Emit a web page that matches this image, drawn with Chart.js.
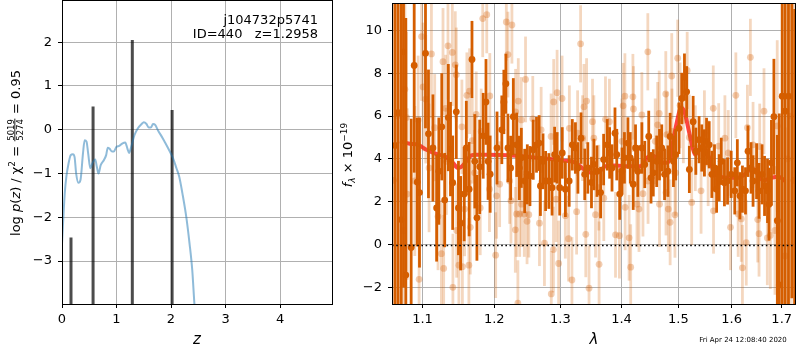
<!DOCTYPE html>
<html>
<head>
<meta charset="utf-8">
<script src="https://cdn.jsdelivr.net/npm/chart.js@4.4.1/dist/chart.umd.min.js"></script>
<style>
  body { margin: 0; background: #fff; }
  #wrap { position: relative; width: 800px; height: 350px; }
  canvas { position: absolute; top: 0; }
</style>
</head>
<body>
<div id="wrap">
  <canvas id="pzChart" width="345" height="350" style="left:0"></canvas>
  <canvas id="specChart" width="465" height="350" style="left:335px"></canvas>
</div>
<script>
// ---- left panel: log p(z)
const zGrid = [0, 0.05, 0.08, 0.12, 0.16, 0.2, 0.23, 0.26, 0.30, 0.34,
  0.385, 0.416, 0.45, 0.48, 0.52, 0.556, 0.61, 0.64, 0.67, 0.71,
  0.77, 0.81, 0.84, 0.87, 0.92, 0.95, 1.0, 1.05, 1.11, 1.16,
  1.2, 1.23, 1.27, 1.33, 1.39, 1.46, 1.50, 1.55, 1.59, 1.63,
  1.67, 1.71, 1.76, 1.85, 1.95, 2.04, 2.10, 2.15, 2.21, 2.28,
  2.34, 2.39, 2.43, 2.47];
const logPz = [-2.6, -1.46, -1.07, -0.77, -0.58, -0.56, -0.62, -1.0, -1.21, -1.14,
  -0.54, -0.24, -0.27, -0.54, -0.88, -0.77, -0.68, -0.85, -1.0, -0.81,
  -0.69, -0.58, -0.41, -0.43, -0.5, -0.5, -0.39, -0.37, -0.31, -0.29,
  -0.43, -0.53, -0.39, -0.12, 0.03, 0.13, 0.17, 0.13, 0.05, 0.05,
  0.13, 0.11, -0.01, -0.2, -0.43, -0.66, -0.88, -1.07, -1.46, -1.99,
  -2.6, -3.21, -3.99, -4.6];
const spikeZ = [0.165, 0.57, 1.29, 2.02];
const spikeTop = [-2.46, 0.53, 2.05, 0.45];
const spikeBase = -6;
const zTicks = [0, 1, 2, 3, 4];
const pzTicks = [-3, -2, -1, 0, 1, 2];

const objName = "j104732p5741";
const objId = 440;
const zBest = "1.2958";
const stamp = "Fri Apr 24 12:08:40 2020";

// ---- right panel: spectrum (dark = main, light = other)
const darkLam = [1.064, 1.068, 1.072, 1.075, 1.078, 1.085, 1.089, 1.093, 1.096, 1.104,
  1.108, 1.114, 1.119, 1.122, 1.126, 1.130, 1.135, 1.138, 1.141, 1.146,
  1.149, 1.152, 1.157, 1.160, 1.164, 1.168, 1.172, 1.175, 1.179, 1.184,
  1.188, 1.191, 1.194, 1.204, 1.211, 1.214, 1.217, 1.220, 1.224, 1.228,
  1.233, 1.237, 1.240, 1.245, 1.249, 1.253, 1.258, 1.263, 1.267, 1.269,
  1.273, 1.277, 1.282, 1.287, 1.291, 1.295, 1.299, 1.303, 1.308, 1.314,
  1.319, 1.324, 1.328, 1.333, 1.339, 1.344, 1.350, 1.354, 1.359, 1.365,
  1.370, 1.376, 1.380, 1.384, 1.389, 1.392, 1.397, 1.401, 1.405, 1.411,
  1.415, 1.420, 1.424, 1.428, 1.435, 1.440, 1.447, 1.451, 1.455, 1.461,
  1.466, 1.470, 1.475, 1.481, 1.485, 1.491, 1.495, 1.501, 1.506, 1.511,
  1.515, 1.520, 1.527, 1.532, 1.538, 1.543, 1.548, 1.552, 1.557, 1.562,
  1.567, 1.571, 1.576, 1.580, 1.586, 1.592, 1.599, 1.606, 1.611, 1.616,
  1.621, 1.627, 1.632, 1.638, 1.642, 1.649, 1.654, 1.660, 1.665, 1.671,
  1.674, 1.679, 1.684, 1.691, 1.695, 1.701, 1.707, 1.714, 1.721, 1.727];
const darkFlux = [4.63, 6.16, 1.17, 9.0, -1.42, -0.13, 8.36, 2.92, 2.43, 8.93,
  5.17, 4.51, 1.71, 3.43, 5.5, 2.08, 5.93, 4.46, 2.89, 6.2,
  1.71, 1.0, 2.36, 4.51, 2.59, 8.64, 3.89, 1.25, 3.63, 5.08,
  6.66, 3.89, 3.29, 4.51, 5.36, 6.66, 7.51, 4.51, 3.58, 5.97,
  4.66, 3.58, 4.05, 2.97, 3.28, 3.2, 4.43, 4.66, 4.74, 2.74,
  3.89, 2.97, 2.97, 2.66, 4.2, 4.05, 2.66, 4.28, 2.59, 2.97,
  4.66, 4.51, 3.58, 4.97, 3.28, 3.58, 2.9, 3.74, 3.43, 2.43,
  3.97, 4.66, 4.28, 3.58, 5.2, 4.2, 2.36, 3.43, 4.05, 4.74,
  4.05, 2.82, 4.51, 3.43, 4.51, 3.74, 5.05, 3.12, 3.35, 3.89,
  4.2, 4.51, 3.28, 3.43, 5.05, 3.89, 4.2, 5.43, 6.82, 7.82,
  7.13, 3.51, 5.74, 4.36, 4.9, 4.51, 4.28, 4.82, 4.66, 3.28,
  3.58, 2.59, 3.12, 3.89, 2.89, 2.97, 3.28, 2.51, 3.82, 2.28,
  2.59, 2.51, 4.36, 3.58, 2.97, 3.43, 2.51, 3.28, 2.74, 2.51,
  1.89, 3.82, 5.97, 1.12, -1.88, 6.93, 6.23, 6.93, 12.5, -4.0];
const darkErr = [12, 12, 12, 11, 12, 6, 5, 3, 3.5, 3.5,
  3, 2.5, 2.5, 2.5, 2.5, 2.2, 2.5, 2.2, 2.2, 2.2,
  2.2, 2.2, 2.2, 2.2, 2.2, 1.8, 2.2, 2.0, 2.2, 2.0,
  2.0, 1.8, 1.8, 1.7, 1.6, 1.5, 1.4, 1.6, 1.5, 1.8,
  1.5, 1.5, 1.4, 1.5, 1.4, 1.4, 1.4, 1.3, 1.3, 1.4,
  1.3, 1.4, 1.3, 1.3, 1.3, 1.2, 1.3, 1.2, 1.3, 1.2,
  1.2, 1.2, 1.2, 1.2, 1.2, 1.2, 1.2, 1.2, 1.2, 1.2,
  1.2, 1.2, 1.2, 1.1, 1.2, 1.2, 1.2, 1.1, 1.2, 1.2,
  1.2, 1.2, 1.1, 1.2, 1.2, 1.1, 1.2, 1.2, 1.1, 1.2,
  1.2, 1.1, 1.2, 1.2, 1.1, 1.2, 1.2, 1.2, 1.2, 1.1,
  1.2, 1.1, 1.2, 1.1, 1.1, 1.1, 1.1, 1.1, 1.1, 1.1,
  1.1, 1.1, 1.1, 1.1, 1.1, 1.1, 1.1, 1.1, 1.1, 1.1,
  1.1, 1.1, 1.2, 1.2, 1.2, 1.3, 1.3, 1.4, 1.4, 1.5,
  1.7, 2.0, 2.7, 4, 8, 12, 12, 12, 15, 15];

const lightLam = [1.062, 1.067, 1.0746, 1.0768, 1.0790, 1.0798, 1.0898, 1.0942, 1.0955, 1.0988,
  1.1008, 1.1044, 1.1088, 1.1120, 1.1164, 1.1209, 1.1255, 1.1277, 1.1286, 1.1313,
  1.1323, 1.1345, 1.1405, 1.1413, 1.1446, 1.1460, 1.1465, 1.1496, 1.1538, 1.1545,
  1.1576, 1.1608, 1.1636, 1.1646, 1.1656, 1.1684, 1.1717, 1.1740, 1.1797, 1.1811,
  1.1833, 1.1891, 1.1930, 1.1935, 1.2020, 1.2033, 1.2078, 1.2176, 1.2200, 1.2225,
  1.2245, 1.2259, 1.2310, 1.2314, 1.2329, 1.2348, 1.2354, 1.2375, 1.2399, 1.2402,
  1.2444, 1.2463, 1.2486, 1.2513, 1.2573, 1.2675, 1.2701, 1.2752, 1.2855, 1.2858,
  1.2892, 1.2896, 1.2934, 1.2949, 1.2973, 1.3027, 1.3079, 1.3130, 1.3143, 1.3184,
  1.3259, 1.3275, 1.3323, 1.3355, 1.3378, 1.3407, 1.3420, 1.3460, 1.3517, 1.3539,
  1.3566, 1.3620, 1.3625, 1.3703, 1.3731, 1.3797, 1.3899, 1.3965, 1.4008, 1.4028,
  1.4058, 1.4062, 1.4130, 1.4157, 1.4195, 1.4204, 1.4265, 1.4300, 1.4350, 1.4369,
  1.4454, 1.4458, 1.4584, 1.4627, 1.4655, 1.4660, 1.4772, 1.4776, 1.4790, 1.4817,
  1.4850, 1.4879, 1.4883, 1.4937, 1.4951, 1.4987, 1.503, 1.509, 1.516, 1.520,
  1.5243, 1.531, 1.5417, 1.548, 1.555, 1.5647, 1.5652, 1.575, 1.5869, 1.5933,
  1.5977, 1.6081, 1.6126, 1.6187, 1.6210, 1.6285, 1.6308, 1.6367, 1.6420, 1.6513,
  1.6539, 1.6553, 1.6639, 1.6706, 1.6767, 1.6862, 1.6908, 1.7072, 1.712, 1.718,
  1.725];
const lightFlux = [3.0, 6.0, 0.66, 7.25, 5.93, 2.36, 2.97, 5.82, -1.62, 9.71,
  7.36, 6.79, 3.58, 8.9, 5.46, 1.31, -0.42, 8.54, -1.11, 6.36,
  3.89, 9.28, 8.97, -1.99, 8.39, 7.93, 0.66, -0.96, 5.5, -1.03,
  1.66, 6.97, -0.96, 7.16, 0.81, 4.85, 3.35, 6.08, 1.71, 5.28,
  10.55, 10.73, 2.59, 6.94, -0.49, 2.28, 2.82, 10.39, 8.87, 2.97,
  2.05, 10.25, 0.69, 6.2, 1.43, -2.73, 6.7, 1.43, 5.82, 1.89,
  1.43, 7.71, 1.09, 1.4, 5.87, 1.0, 5.36, 0.07, 5.05, -2.3,
  -0.23, 6.66, 2.12, 7.09, -0.88, 6.82, 1.35, 0.28, 5.43, -1.65,
  1.54, 5.2, 9.37, 4.97, 6.43, 0.48, 6.7, -2.03, 5.74, 4.97,
  1.4, 2.66, -0.92, 2.17, 5.85, 5.74, 0.46, 0.42, 4.82, 6.48,
  6.93, 1.74, 0.32, -1.05, 6.9, 6.33, 1.89, 1.66, 6.05, 2.38,
  9.0, 2.97, 4.82, 5.59, 6.12, 1.89, 7.03, 2.43, 5.13, 1.66,
  1.04, 7.87, 5.28, 1.39, 3.35, 8.7, 6.5, 5.8, 8.13, 5.0,
  1.97, 4.5, 2.51, 5.2, 3.8, 6.36, 1.58, 4.6, 4.97, 4.28,
  0.81, 6.97, 1.43, 1.2, -1.08, 0.09, 5.46, 8.74, 4.66, 1.17,
  0.51, 4.58, 6.23, 0.31, 0.43, 0.66, 5.54, -0.53, 4.0, 6.0,
  3.0];
const lightErr = [14, 12, 4, 4, 4, 4, 3.5, 3, 3, 3,
  3, 3, 3, 3, 2.5, 2.5, 2.5, 2.5, 2.5, 2.5,
  2.5, 2.5, 2.5, 2.5, 2.5, 2.2, 2.2, 2.2, 2.2, 2.2,
  2.2, 2.0, 2.2, 2.0, 2.2, 2.0, 2.0, 2.0, 2.2, 2.0,
  1.8, 1.8, 2.0, 2.0, 2.0, 2.0, 2.0, 1.8, 2.0, 2.0,
  2.0, 1.8, 2.0, 2.0, 2.0, 2.0, 2.0, 2.0, 2.0, 2.0,
  2.0, 2.0, 2.0, 2.0, 2.0, 2.0, 2.0, 2.0, 2.0, 2.0,
  2.0, 2.0, 2.0, 2.0, 2.0, 2.0, 2.0, 2.0, 2.0, 2.0,
  2.0, 2.0, 1.8, 2.0, 2.0, 2.0, 2.0, 2.0, 2.0, 2.0,
  2.0, 2.0, 2.0, 2.0, 2.0, 2.0, 2.0, 2.0, 2.0, 2.0,
  2.0, 2.0, 2.0, 2.0, 2.0, 2.0, 2.0, 2.0, 2.0, 2.0,
  1.8, 2.0, 2.0, 2.0, 2.0, 2.0, 2.0, 2.0, 2.0, 2.0,
  2.0, 2.0, 2.0, 2.0, 2.0, 1.8, 2.0, 2.0, 1.8, 2.0,
  2.0, 2.0, 2.0, 2.0, 2.0, 2.0, 2.0, 2.0, 2.0, 2.0,
  2.0, 2.0, 2.0, 2.0, 2.0, 2.0, 2.0, 1.8, 2.0, 2.0,
  2.0, 2.0, 2.0, 2.2, 2.5, 3, 4, 6, 14, 14,
  14];

// model
const modelLam = [1.0703, 1.0833, 1.0942, 1.1053, 1.1187, 1.1300, 1.1413, 1.1482, 1.1530, 1.1599,
  1.1670, 1.1740, 1.1930, 1.2222, 1.2528, 1.2774, 1.3032, 1.3245, 1.3378, 1.3496,
  1.3622, 1.3733, 1.3899, 1.4124, 1.4324, 1.4439, 1.4526, 1.4612, 1.4702, 1.4791,
  1.4850, 1.4909, 1.4970, 1.5050, 1.5109, 1.5183, 1.5262, 1.5306, 1.5367, 1.5441,
  1.5503, 1.5585, 1.5666, 1.5774, 1.5933, 1.6126, 1.6257, 1.6387, 1.6486, 1.6620,
  1.6787, 1.6937, 1.7072];
const modelFlux = [4.82, 4.71, 4.66, 4.43, 4.23, 4.12, 3.82, 3.58, 3.63, 3.89,
  4.17, 4.2, 4.2, 4.17, 4.09, 4.02, 3.93, 3.82, 3.51, 3.35,
  3.4, 3.66, 3.69, 3.66, 3.66, 4.05, 4.17, 4.05, 3.82, 3.82,
  4.05, 4.9, 5.7, 6.4, 6.2, 5.4, 4.51, 4.2, 4.36, 4.59,
  4.43, 3.97, 3.35, 3.17, 3.12, 3.12, 3.28, 3.54, 3.43, 3.0,
  3.12, 3.17, 2.97];
const lamTicks = [1.1, 1.2, 1.3, 1.4, 1.5, 1.6, 1.7];
const fluxTicks = [-2, 0, 2, 4, 6, 8, 10];

const g141 = "213,94,0";

Chart.defaults.font.family = "'DejaVu Sans'";
Chart.defaults.font.size = 13;
Chart.defaults.color = "#000";

// Help
const minus = (v) => String(v).replace("-", "\u2212");
const fixTicks = (vals) => (scale) => {
  scale.ticks = vals.map((v) => ({ value: v }));
};
const fixSize = (w, h) => (scale) => {
  if (w) scale.width = w;
  if (h) scale.height = h;
  scale.paddingTop = 0;
  scale.paddingBottom = 0;
  scale.paddingLeft = 0;
  scale.paddingRight = 0;
};
const gridOpts = { color: "#b0b0b0", lineWidth: 1, tickColor: "#000", tickLength: 4 };
const toPoints = (xs, ys) => xs.map((x, i) => ({ x: x, y: ys[i] }));

// write pieces of text along a rotated line, centred on cx, cy
const drawRotated = (ctx, parts, cx, cy) => {
  let total = 0;
  parts.forEach((p) => {
    ctx.font = p.font;
    if (p.num) {
      p.w = Math.max(ctx.measureText(p.num).width, ctx.measureText(p.den).width) + 2;
    } else {
      p.w = ctx.measureText(p.t).width;
    }
    total += p.w;
  });
  ctx.save();
  ctx.translate(cx, cy);
  ctx.rotate(-Math.PI / 2);
  ctx.fillStyle = "#000";
  ctx.textAlign = "left";
  ctx.textBaseline = "alphabetic";
  let x = -total / 2;
  parts.forEach((p) => {
    ctx.font = p.font;
    if (p.num) {
      ctx.textAlign = "center";
      ctx.fillText(p.num, x + p.w / 2, -1.5);
      ctx.fillText(p.den, x + p.w / 2, 7.5);
      ctx.fillRect(x + 0.5, -0.6, p.w - 1, 0.9);
      ctx.textAlign = "left";
    } else {
      ctx.fillText(p.t, x, 4.5 + (p.dy || 0));
    }
    x += p.w;
  });
  ctx.restore();
};

// box round the plot
const frame = {
  id: "frame",
  afterDatasetsDraw(chart) {
    const { ctx, chartArea: a } = chart;
    ctx.save();
    ctx.strokeStyle = "#000";
    ctx.lineWidth = 1;
    const l = Math.round(a.left) + 0.5;
    const t = Math.round(a.top) - 0.5;
    const r = Math.round(a.right) - 0.5;
    const b = Math.round(a.bottom) + 0.5;
    ctx.strokeRect(l, t, r - l, b - t);
    ctx.restore();
  },
};

// error bars from dataset.errs
const errorBars = {
  id: "errorBars",
  beforeDatasetDraw(chart, args) {
    const ds = chart.data.datasets[args.index];
    if (!ds.errs) return;
    const { ctx, chartArea: a, scales } = chart;
    ctx.save();
    ctx.beginPath();
    ctx.rect(a.left, a.top, a.right - a.left, a.bottom - a.top);
    ctx.clip();
    ctx.strokeStyle = ds.errColor;
    ctx.lineWidth = 2.8;
    ds.data.forEach((p, i) => {
      const x = scales.x.getPixelForValue(p.x);
      const y0 = scales.y.getPixelForValue(p.y - ds.errs[i]);
      const y1 = scales.y.getPixelForValue(p.y + ds.errs[i]);
      ctx.beginPath();
      ctx.moveTo(x, y0);
      ctx.lineTo(x, y1);
      ctx.stroke();
    });
    ctx.restore();
  },
};

// zero line, dotted
const zeroLine = {
  id: "zeroLine",
  afterDatasetsDraw(chart) {
    const { ctx, chartArea: a, scales } = chart;
    const y = Math.round(scales.y.getPixelForValue(0)) + 0.5;
    ctx.save();
    ctx.strokeStyle = "#000";
    ctx.lineWidth = 1.6;
    ctx.setLineDash([1.6, 2.6]);
    ctx.beginPath();
    ctx.moveTo(a.left, y);
    ctx.lineTo(a.right, y);
    ctx.stroke();
    ctx.restore();
  },
};

const pzText = {
  id: "pzText",
  afterDraw(chart) {
    const ctx = chart.ctx;
    ctx.save();
    ctx.fillStyle = "#000";
    ctx.font = "13px 'DejaVu Sans'";
    ctx.textAlign = "right";
    ctx.fillText(objName, 318, 24);
    ctx.fillText(`ID=${objId}   z=${zBest}`, 318, 38);
    ctx.textAlign = "center";
    ctx.textBaseline = "middle";
    ctx.font = "italic 15px 'DejaVu Sans'";
    ctx.fillText("z", 197, 340);
    ctx.restore();
    const n = "13px 'DejaVu Sans'";
    const it = "italic 13px 'DejaVu Sans'";
    drawRotated(ctx, [
      { t: "log ", font: n },
      { t: "p", font: it },
      { t: "(", font: n },
      { t: "z", font: it },
      { t: ") / \u03c7", font: n },
      { t: "2", font: "9px 'DejaVu Sans'", dy: -5 },
      { t: " = ", font: n },
      { num: "5019", den: "5274", font: "8.5px 'DejaVu Sans'" },
      { t: " = 0.95", font: n },
    ], 15, 153);
  },
};

const specText = {
  id: "specText",
  afterDraw(chart) {
    const ctx = chart.ctx;
    ctx.save();
    ctx.fillStyle = "#000";
    ctx.textAlign = "center";
    ctx.textBaseline = "middle";
    ctx.font = "italic 15px 'DejaVu Sans'";
    ctx.fillText("\u03bb", 259, 340);
    ctx.font = "7px 'DejaVu Sans'";
    ctx.fillText(stamp, 408, 340);
    ctx.restore();
    drawRotated(ctx, [
      { t: "f", font: "italic 13px 'DejaVu Sans'" },
      { t: "\u03bb", font: "italic 9px 'DejaVu Sans'", dy: 3 },
      { t: " \u00d7 10", font: "13px 'DejaVu Sans'" },
      { t: "\u221219", font: "9px 'DejaVu Sans'", dy: -5 },
    ], 12, 155);
  },
};

// left chart
new Chart(document.getElementById("pzChart"), {
  type: "scatter",
  data: {
    datasets: [
      {
        data: toPoints(zGrid, logPz),
        showLine: true,
        borderColor: "rgba(31,119,180,0.5)",
        borderWidth: 2,
        pointRadius: 0,
        cubicInterpolationMode: "monotone",
        clip: 0,
      },
      {
        data: spikeZ.flatMap((z, i) => [
          { x: z, y: spikeBase },
          { x: z, y: spikeTop[i] },
          { x: z, y: null },
        ]),
        showLine: true,
        spanGaps: false,
        borderColor: "rgba(0,0,0,0.7)",
        borderWidth: 3,
        pointRadius: 0,
        clip: 0,
      },
    ],
  },
  options: {
    responsive: false,
    animation: false,
    events: [],
    layout: { padding: { left: 0, right: 12, top: 1, bottom: 0 } },
    plugins: { legend: { display: false }, tooltip: { enabled: false } },
    scales: {
      x: {
        type: "linear",
        min: 0,
        max: 4.972,
        grid: gridOpts,
        border: { display: false },
        ticks: { padding: 4, maxRotation: 0, autoSkip: false, callback: (v) => minus(v) },
        afterBuildTicks: fixTicks(zTicks),
        afterFit: fixSize(0, 46),
      },
      y: {
        type: "linear",
        min: -3.98,
        max: 2.94,
        grid: gridOpts,
        border: { display: false },
        ticks: { padding: 6, autoSkip: false, callback: (v) => minus(v) },
        afterBuildTicks: fixTicks(pzTicks),
        afterFit: fixSize(62, 0),
      },
    },
  },
  plugins: [frame, pzText],
});

// right chart
new Chart(document.getElementById("specChart"), {
  type: "scatter",
  data: {
    datasets: [
      {
        data: toPoints(lightLam, lightFlux),
        errs: lightErr,
        errColor: `rgba(${g141},0.25)`,
        backgroundColor: `rgba(${g141},0.3)`,
        borderWidth: 0,
        pointRadius: 3.4,
        clip: 0,
      },
      {
        data: toPoints(darkLam, darkFlux),
        errs: darkErr,
        errColor: `rgb(${g141})`,
        backgroundColor: `rgb(${g141})`,
        borderWidth: 0,
        pointRadius: 3.4,
        clip: 0,
      },
      {
        data: toPoints(modelLam, modelFlux),
        showLine: true,
        borderColor: "rgba(255,20,20,0.8)",
        borderWidth: 4,
        pointRadius: 0,
        cubicInterpolationMode: "monotone",
        clip: 0,
      },
    ],
  },
  options: {
    responsive: false,
    animation: false,
    events: [],
    layout: { padding: { left: 0, right: 1, top: 1, bottom: 0 } },
    plugins: { legend: { display: false }, tooltip: { enabled: false } },
    scales: {
      x: {
        type: "logarithmic",
        min: 1.0601,
        max: 1.7297,
        grid: gridOpts,
        border: { display: false },
        ticks: { padding: 4, maxRotation: 0, autoSkip: false, callback: (v) => Number(v).toFixed(1) },
        afterBuildTicks: fixTicks(lamTicks),
        afterFit: fixSize(0, 46),
      },
      y: {
        type: "linear",
        min: -2.77,
        max: 11.23,
        grid: gridOpts,
        border: { display: false },
        ticks: { padding: 6, autoSkip: false, callback: (v) => minus(v) },
        afterBuildTicks: fixTicks(fluxTicks),
        afterFit: fixSize(57, 0),
      },
    },
  },
  plugins: [errorBars, zeroLine, frame, specText],
});
</script>
</body>
</html>
